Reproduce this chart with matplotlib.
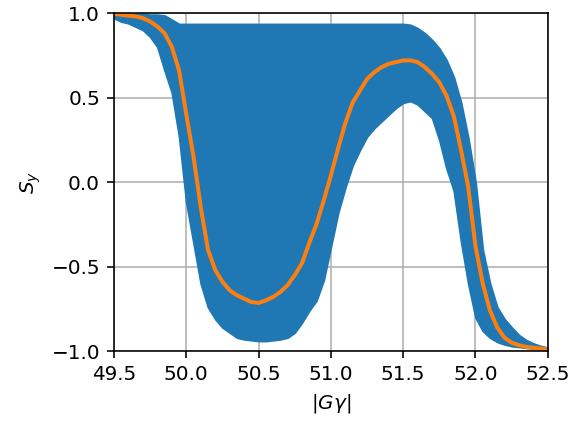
import numpy as np
import matplotlib
matplotlib.use("Agg")
import matplotlib.pyplot as plt

# |G gamma| sample positions (step 0.05)
g_gamma = [49.50, 49.55, 49.60, 49.65, 49.70, 49.75, 49.80, 49.85, 49.90, 49.95,
           50.00, 50.05, 50.10, 50.15, 50.20, 50.25, 50.30, 50.35, 50.40, 50.45,
           50.50, 50.55, 50.60, 50.65, 50.70, 50.75, 50.80, 50.85, 50.90, 50.95,
           51.00, 51.05, 51.10, 51.15, 51.20, 51.25, 51.30, 51.35, 51.40, 51.45,
           51.50, 51.55, 51.60, 51.65, 51.70, 51.75, 51.80, 51.85, 51.90, 51.95,
           52.00, 52.05, 52.10, 52.15, 52.20, 52.25, 52.30, 52.35, 52.40, 52.45,
           52.50]

# upper envelope of the fast-oscillating S_y
sy_upper = [0.995, 0.995, 0.995, 0.995, 0.995, 0.99, 0.99, 0.985, 0.96, 0.935,
            0.935, 0.935, 0.935, 0.935, 0.935, 0.935, 0.935, 0.935, 0.935, 0.935,
            0.935, 0.935, 0.935, 0.935, 0.935, 0.935, 0.935, 0.935, 0.935, 0.935,
            0.935, 0.935, 0.935, 0.935, 0.935, 0.935, 0.935, 0.935, 0.935, 0.935,
            0.935, 0.93, 0.91, 0.88, 0.84, 0.79, 0.72, 0.62, 0.47, 0.26,
            0.0, -0.40, -0.60, -0.74, -0.81, -0.86, -0.905, -0.935, -0.955, -0.97,
            -0.98]

# lower envelope of the fast-oscillating S_y
sy_lower = [0.97, 0.95, 0.94, 0.92, 0.90, 0.86, 0.80, 0.66, 0.53, 0.27,
            -0.12, -0.36, -0.60, -0.74, -0.81, -0.86, -0.89, -0.92, -0.93, -0.935,
            -0.94, -0.94, -0.935, -0.93, -0.92, -0.89, -0.83, -0.76, -0.70, -0.58,
            -0.38, -0.18, -0.03, 0.10, 0.19, 0.27, 0.32, 0.36, 0.40, 0.44,
            0.47, 0.48, 0.46, 0.42, 0.38, 0.25, 0.08, -0.05, -0.35, -0.60,
            -0.80, -0.88, -0.92, -0.945, -0.96, -0.97, -0.975, -0.98, -0.985, -0.99,
            -0.995]

# averaged S_y
sy_mean = [0.995, 0.99, 0.985, 0.98, 0.97, 0.95, 0.92, 0.88, 0.80, 0.66,
           0.40, 0.15, -0.15, -0.40, -0.52, -0.59, -0.64, -0.67, -0.69, -0.71,
           -0.715, -0.70, -0.68, -0.65, -0.61, -0.55, -0.48, -0.36, -0.25, -0.11,
           0.04, 0.20, 0.35, 0.47, 0.54, 0.61, 0.65, 0.68, 0.70, 0.71,
           0.72, 0.72, 0.71, 0.68, 0.64, 0.59, 0.51, 0.39, 0.19, -0.03,
           -0.38, -0.60, -0.76, -0.86, -0.92, -0.95, -0.965, -0.975, -0.98, -0.985,
           -0.99]

xticks = [49.5, 50.0, 50.5, 51.0, 51.5, 52.0, 52.5]
yticks = [-1.0, -0.5, 0.0, 0.5, 1.0]

DPI = 144
fig = plt.figure(figsize=(573 / DPI, 422 / DPI), dpi=DPI)
ax = fig.add_axes([0.199, 0.168, 0.757, 0.801])

ax.fill_between(g_gamma, sy_lower, sy_upper, color='#1f77b4', linewidth=1.0,
                edgecolor='#1f77b4')
ax.plot(g_gamma, sy_mean, color='#ff7f0e', linewidth=2.0)

ax.set_xlim(49.5, 52.5)
ax.set_ylim(-1.0, 1.0)
ax.set_xticks(xticks)
ax.set_yticks(yticks)
ax.grid(True)
ax.set_axisbelow(True)
ax.set_xlabel(r'$|G\gamma|$')
ax.set_ylabel(r'$S_y$')

fig.savefig('out.png', dpi=DPI)
